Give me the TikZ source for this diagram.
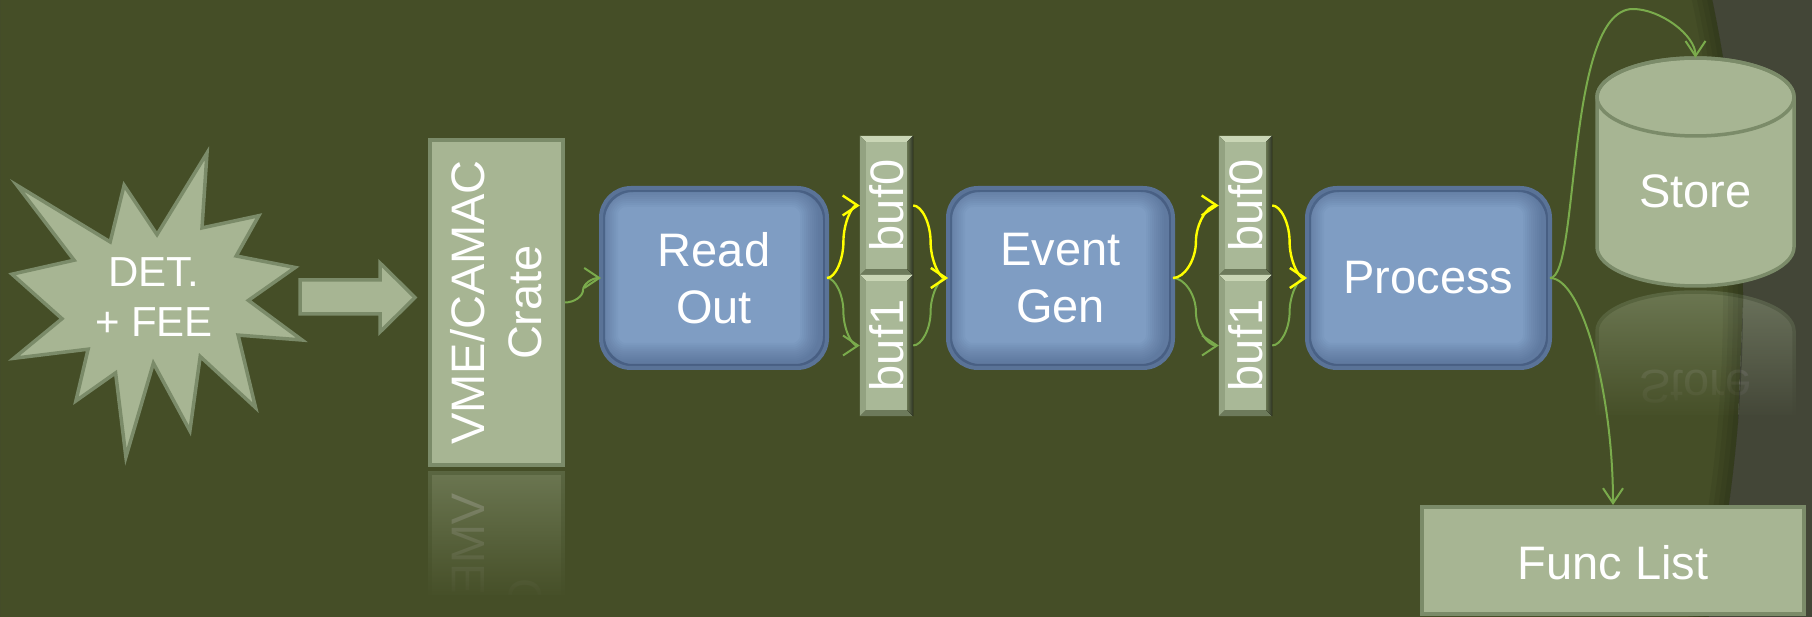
\documentclass[tikz,border=0pt]{standalone}
\usepackage{fontspec}
\setmainfont{Liberation Sans}
\usetikzlibrary{arrows.meta,calc,fadings}

\definecolor{bgolive}{HTML}{454E27}
\definecolor{bggray}{HTML}{434637}
\definecolor{sage}{HTML}{A7B593}
\definecolor{sageedge}{HTML}{7B8B69}
\definecolor{bluefill}{HTML}{7F9DC3}
\definecolor{blueedge}{HTML}{5A7397}
\definecolor{blueshade}{HTML}{34476A}
\definecolor{linkgreen}{HTML}{7AAB4C}
\definecolor{linkyellow}{HTML}{FFFF00}
\definecolor{bevtop}{HTML}{CAD6B6}
\definecolor{bevleft}{HTML}{93A281}
\definecolor{bevbottom}{HTML}{6D7A5B}
\definecolor{bevrightA}{HTML}{66724F}
\definecolor{bevrightB}{HTML}{2C3222}
\definecolor{bevface}{HTML}{A9B897}

% reflections fade out towards the bottom
\tikzfading[name=mirrorfade, top color=transparent!40, bottom color=transparent!0]

\tikzset{
  lbl/.style={text=white, font=\fontsize{47}{57}\selectfont, align=center, inner sep=0pt},
  lblstar/.style={text=white, font=\fontsize{42}{50}\selectfont, align=center, inner sep=0pt},
  sagebox/.style={draw=sageedge, fill=sage, line width=4pt, inner sep=0pt},
  bluebox/.style={draw=blueedge, fill=bluefill, line width=4pt, rounded corners=30pt,
                  inner sep=0pt, minimum height=176pt},
  bufbox/.style={inner sep=0pt, minimum width=53pt},
  wire/.style={line width=2pt, -{Straight Barb[length=15pt,width=20pt]}},
  gwire/.style={wire, linkgreen},
  ywire/.style={wire, linkyellow, line width=2.4pt},
}

% curved connector: leaves horizontally, turns vertical halfway, arrives horizontally
\newcommand\wirec[3]{%
  \draw[#1] let \p1=(#2), \p2=(#3) in
    (\p1) .. controls ({0.75*\x1+0.25*\x2},\y1) and ({0.5*\x1+0.5*\x2},{0.75*\y1+0.25*\y2})
    .. ({0.5*\x1+0.5*\x2},{0.5*\y1+0.5*\y2})
    .. controls ({0.5*\x1+0.5*\x2},{0.25*\y1+0.75*\y2}) and ({0.25*\x1+0.75*\x2},\y2) .. (\p2);}

% rounded blue process box with a soft inner shadow
\newcommand\procbox[4]{%
  \node[bluebox, minimum width=#3] (#1) at (#2,278) {};
  \begin{scope}
    \clip[rounded corners=30pt] (#1.north west) rectangle (#1.south east);
    \foreach \w in {44,40,36,32,28,24,20,16,12,8}
      \draw[blueshade, opacity=0.045, line width=\w pt, rounded corners=30pt]
        ($(#1.north west)+(-5,-3)$) rectangle ($(#1.south east)+(-5,-3)$);
  \end{scope}
  \draw[blueedge, line width=4pt, rounded corners=30pt] (#1.north west) rectangle (#1.south east);
  \node[lbl] (#1-t) at (#1.center) {#4};
}

% bevelled buffer cell
\newcommand\bufcell[5]{%
  \node[bufbox, minimum height=#4] (#1) at (#2,#3) {};
  \fill[bevface] ($(#1.north west)+(6,6)$) rectangle ($(#1.south east)+(-6,-6)$);
  \fill[bevtop] (#1.north west) -- (#1.north east) -- ($(#1.north east)+(-6,6)$)
     -- ($(#1.north west)+(6,6)$) -- cycle;
  \fill[bevleft] (#1.north west) -- ($(#1.north west)+(6,6)$) -- ($(#1.south west)+(6,-6)$)
     -- (#1.south west) -- cycle;
  \fill[bevbottom] (#1.south west) -- ($(#1.south west)+(6,-6)$) -- ($(#1.south east)+(-6,-6)$)
     -- (#1.south east) -- cycle;
  \fill[left color=bevrightA, right color=bevrightB] (#1.north east) -- (#1.south east)
     -- ($(#1.south east)+(-6,-6)$) -- ($(#1.north east)+(-6,6)$) -- cycle;
  \node[lbl, rotate=90] (#1-t) at (#1.center) {#5};
}

% storage drum body
\newcommand\drumbody[1]{%
  \path[#1] (1597,97) -- (1597,247)
    arc[start angle=180, end angle=360, x radius=98.5pt, y radius=39pt]
    -- (1794,97) arc[start angle=0, end angle=180, x radius=98.5pt, y radius=39pt] -- cycle;}

\begin{document}
\begin{tikzpicture}[x=1pt, y=-1pt]
\useasboundingbox (0,0) rectangle (1812,617);

% background
\fill[bgolive] (0,0) rectangle (1812,617);
\fill[bggray, even odd rule] (0,0) rectangle (1812,617) (276,300) circle[radius=1467pt];

% reflection of the crate
\begin{scope}
  \clip (420,470) rectangle (575,594);
  \begin{scope}[shift={(0,938)}, yscale=-1, transform shape]
    \node[sagebox, minimum width=133pt, minimum height=325pt] (vmeM) at (496.5,302.5) {};
    \node[lbl, rotate=90] (vmeMt) at (496.5,302.5) {VME/CAMAC\\Crate};
  \end{scope}
\end{scope}
\fill[bgolive, path fading=mirrorfade] (418,470) rectangle (577,600);

% reflection of the drum
\begin{scope}
  \clip (1590,290) rectangle (1800,414);
  \begin{scope}[shift={(0,578)}, yscale=-1, transform shape]
    \drumbody{fill=sage, draw=sageedge, line width=3.5pt}
    \node[lbl] (storeMt) at (1695.5,191.5) {Store};
  \end{scope}
\end{scope}
\fill[bgolive, path fading=mirrorfade] (1588,290) -- (1743,290) -- (1743,300) -- (1738,420) -- (1588,420) -- cycle;
\fill[bggray, path fading=mirrorfade] (1743,290) -- (1802,290) -- (1802,420) -- (1738,420) -- (1743,300) -- cycle;

% soft shadow along the curved edge of the backdrop
\begin{scope}
  \clip (276,300) circle[radius=1467pt];
  \foreach \w in {40,30,20,10}
    \draw[black, opacity=0.06, line width=\w pt] (276,300) circle[radius=1467pt];
\end{scope}

% detector burst
\draw[sageedge, fill=sage, line width=3.5pt, line join=miter]
  (157.0,234.6) -- (207.0,153.0) -- (202.0,227.9) -- (258.8,215.7) -- (236.2,256.0)
  -- (295.2,267.5) -- (248.4,300.4) -- (302.0,340.0) -- (238.1,335.1) -- (255.6,407.7)
  -- (200.2,356.5) -- (189.9,430.8) -- (153.4,363.2) -- (125.9,457.0) -- (115.6,372.9)
  -- (75.9,400.9) -- (88.1,349.2) -- (13.8,358.3) -- (62.0,318.7) -- (12.0,274.2)
  -- (74.1,260.2) -- (17.0,185.3) -- (110.2,241.9) -- (124.1,185.3) -- cycle;
\node[lblstar] (det) at (154,297) {DET.\\+ FEE};

% block arrow into the crate
\draw[sageedge, fill=sage, line width=3.5pt]
  (300,280) -- (380,280) -- (380,263) -- (415,297.5) -- (380,332) -- (380,314) -- (300,314) -- cycle;

% crate
\node[sagebox, minimum width=133pt, minimum height=325pt] (vme) at (496.5,302.5) {};
\node[lbl, rotate=90] (vmet) at (vme.center) {VME/CAMAC\\Crate};

% processing stages
\procbox{ro}{714}{222pt}{Read\\Out}
\procbox{eg}{1060.5}{221pt}{Event\\Gen}
\procbox{pr}{1428.5}{239pt}{Process}

% double buffers
\bufcell{ab0}{886.5}{205.5}{139pt}{buf0}
\bufcell{ab1}{886.5}{345.5}{141pt}{buf1}
\bufcell{bb0}{1245.5}{205.5}{139pt}{buf0}
\bufcell{bb1}{1245.5}{345.5}{141pt}{buf1}

% storage drum
\node[inner sep=0pt, minimum width=197pt, minimum height=228pt] (store) at (1695.5,172) {};
\drumbody{fill=sage}
\drumbody{draw=sageedge, line width=3.5pt}
\draw[sageedge, line width=3.5pt] (1695.5,97) ellipse[x radius=98.5pt, y radius=39pt];
\node[lbl] (storet) at (1695.5,191.5) {Store};

% function list
\node[sagebox, minimum width=382pt, minimum height=107pt] (fl) at (1613,560.5) {};
\node[lbl] (flt) at (1613,562.5) {Func List};

% connectors
\wirec{gwire}{vme.east}{ro.west}
\wirec{gwire}{ro.east}{ab1.west}
\wirec{gwire}{ab1.east}{eg.west}
\wirec{gwire}{eg.east}{bb1.west}
\wirec{gwire}{bb1.east}{pr.west}
\wirec{ywire}{ro.east}{ab0.west}
\wirec{ywire}{ab0.east}{eg.west}
\wirec{ywire}{eg.east}{bb0.west}
\wirec{ywire}{bb0.east}{pr.west}

\coordinate (crest) at (1633,9);
\draw[gwire] (pr.east) .. controls (1580,278) and (1565,9) .. (crest)
  .. controls (1660,9) and (1695.5,35) .. (store.north);
\draw[gwire] (pr.east) .. controls (1582,278) and (1613,392) .. (fl.north);
\end{tikzpicture}
\end{document}
